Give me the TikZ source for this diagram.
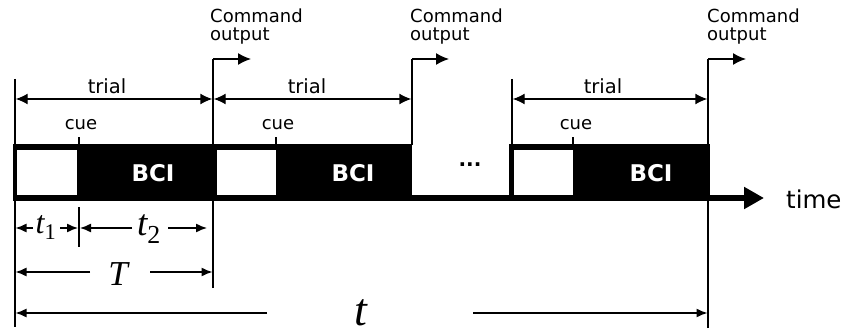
\documentclass[tikz,border=0pt]{standalone}
\usepackage{fontspec}
\setmainfont{DejaVu Sans}
\newfontfamily\tms{Liberation Serif}
\usetikzlibrary{arrows.meta}
\begin{document}
\begin{tikzpicture}[x=1pt,y=-1pt,
  thinl/.style={line width=1.4pt},
  dimarrow/.style={line width=1.4pt,{Latex[length=12pt,width=11pt]}-{Latex[length=12pt,width=11pt]}},
  smallarrow/.style={line width=1.4pt,-{Latex[length=11pt,width=9pt]}},
  cmdarrow/.style={line width=1.4pt,-{Latex[length=13pt,width=12pt]}},
  lab/.style={font=\fontsize{18}{18}\selectfont,inner sep=0pt},
  triallab/.style={font=\fontsize{19.5}{20}\selectfont,inner sep=0pt},
  bcilab/.style={font=\fontsize{23}{23}\selectfont\bfseries,text=white,inner sep=0pt},
  cmdlab/.style={font=\fontsize{18}{17.5}\selectfont,inner sep=0pt,align=left,anchor=north west},
  itl/.style={inner sep=0pt,anchor=base}
]
\useasboundingbox (0,0) rectangle (848,334);

% key coordinates
\coordinate (s0) at (15,79);   \coordinate (s0b) at (15,327);
\coordinate (e1) at (213,59);  \coordinate (e1b) at (213,288);
\coordinate (e2) at (412,59);  \coordinate (e2b) at (412,145);
\coordinate (s3) at (512,79);  \coordinate (s3b) at (512,145);
\coordinate (e3) at (708,59);  \coordinate (e3b) at (708,328);

% verticals
\draw[thinl] (s0) -- (s0b);
\draw[thinl] (e1b) -- (e1);
\draw[thinl] (e2b) -- (e2);
\draw[thinl] (s3) -- (s3b);
\draw[thinl] (e3b) -- (e3);

% command output arrows
\coordinate (c1) at (251,59); \coordinate (c2) at (449,59); \coordinate (c3) at (746,59);
\draw[cmdarrow] (e1) -- (c1);
\draw[cmdarrow] (e2) -- (c2);
\draw[cmdarrow] (e3) -- (c3);
\node[cmdlab] (co1) at (210,9) {Command\\output};
\node[cmdlab] (co2) at (410,9) {Command\\output};
\node[cmdlab] (co3) at (707,9) {Command\\output};

% trial arrows
\coordinate (ta1) at (15.7,99);  \coordinate (tb1) at (212.3,99);
\coordinate (ta2) at (213.7,99); \coordinate (tb2) at (411.3,99);
\coordinate (ta3) at (512.7,99); \coordinate (tb3) at (707.3,99);
\draw[dimarrow] (ta1) -- (tb1);
\draw[dimarrow] (ta2) -- (tb2);
\draw[dimarrow] (ta3) -- (tb3);
\node[triallab] (tr1) at (107,86) {trial};
\node[triallab] (tr2) at (307,86) {trial};
\node[triallab] (tr3) at (603,86) {trial};

% cue ticks and labels
\draw[thinl] (79,137) coordinate (q1) -- (79,146);
\draw[thinl] (276,137) coordinate (q2) -- (276,146);
\draw[thinl] (573,137) coordinate (q3) -- (573,146);
\node[lab] (cue1) at (81,124.5) {cue};
\node[lab] (cue2) at (278,124.5) {cue};
\node[lab] (cue3) at (576,124.5) {cue};

% bars
\fill (13,144) rectangle (412,201);
\fill[white] (17,150) rectangle (77,195);
\fill[white] (217,150) rectangle (276,195);
\fill (509,144) rectangle (710,201);
\fill[white] (514,150) rectangle (573,195);
\node[bcilab] (b1) at (153,173) {BCI};
\node[bcilab] (b2) at (353,173) {BCI};
\node[bcilab] (b3) at (651,173) {BCI};
\node[inner sep=0pt,font=\fontsize{20}{20}\selectfont\bfseries] (dots) at (470,165) {...};

% time axis
\coordinate (ax0) at (13,198);
\coordinate (ax1) at (764,198);
\draw[line width=6pt,-{Triangle[length=20pt,width=21pt]}] (ax0) -- (ax1);
\node[inner sep=0pt,anchor=base west,font=\fontsize{24.5}{24}\selectfont] (time) at (786,208) {time};

% t1, t2 tick
\draw[thinl] (79,207) -- (79,247);
\node[itl,font=\fontsize{32}{32}\selectfont\tms\itshape] (t1) at (46,233) {t\textsubscript{\upshape 1}};
\draw[smallarrow] (33,228) -- (15.5,228);
\draw[smallarrow] (60,228) -- (78,228);
\node[itl,font=\fontsize{37}{37}\selectfont\tms\itshape] (t2) at (149,235) {t\textsubscript{\upshape 2}};
\draw[smallarrow] (132,228) -- (80,228);
\draw[smallarrow] (168,228) -- (207,228);

% T
\node[itl,font=\fontsize{35}{35}\selectfont\tms\itshape] (T) at (118,285) {T};
\draw[smallarrow] (90,272) -- (15.5,272);
\draw[smallarrow] (150,272) -- (212.5,272);

% t
\node[itl,font=\fontsize{46}{46}\selectfont\tms\itshape] (tt) at (361,325) {t};
\draw[smallarrow] (267,313) -- (15.5,313);
\draw[smallarrow] (473,313) -- (707.5,313);
\end{tikzpicture}
\end{document}
